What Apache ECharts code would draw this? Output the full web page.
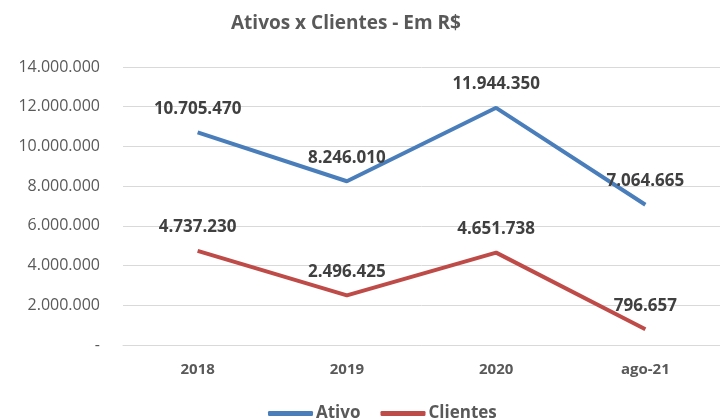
<!DOCTYPE html>
<html>
<head>
<meta charset="utf-8">
<script src="https://cdn.jsdelivr.net/npm/echarts@6/dist/echarts.min.js"></script>
<style>
  html, body { margin: 0; padding: 0; background: #fff; }
  #main { width: 720px; height: 419px; }
</style>
</head>
<body>
<div id="main"></div>
<script>
// dados
var categorias = ['2018', '2019', '2020', 'ago-21'];
var ativo = [10705470, 8246010, 11944350, 7064665];
var clientes = [4737230, 2496425, 4651738, 796657];
var yTicks = { min: 0, max: 14000000, interval: 2000000 };

var azul = '#4a7ebb';
var vermelho = '#be4b48';

function fmtBR(v) {
  if (v === 0) return '-';
  return String(Math.round(v)).replace(/\B(?=(\d{3})+(?!\d))/g, '.');
}

var fonte = '"Open Sans", "Noto Sans", sans-serif';

var chartDom = document.getElementById('main');
var myChart = echarts.init(chartDom);

function rotulo() {
  return {
    show: true, position: 'top', distance: 14,
    color: '#404040', fontSize: 17, fontWeight: 'bold',
    formatter: function (p) { return fmtBR(p.value); }
  };
}

var option = {
  animation: false,
  textStyle: { fontFamily: fonte },
  title: {
    text: 'Ativos x Clientes - Em R$',
    left: 226,
    top: 9,
    textStyle: { color: '#595959', fontSize: 19, fontWeight: 'bold', fontFamily: fonte }
  },
  legend: {
    top: 400,
    left: 263,
    icon: 'roundRect',
    itemWidth: 45,
    itemHeight: 5,
    itemGap: 20,
    textStyle: { color: '#595959', fontSize: 17, fontWeight: 'bold', padding: [0, 0, 0, -2] },
    data: [
      { name: 'Ativo', itemStyle: { color: azul } },
      { name: 'Clientes', itemStyle: { color: vermelho } }
    ]
  },
  grid: { left: 123, right: -11, top: 67, bottom: 74, containLabel: false },
  xAxis: {
    type: 'category',
    data: categorias,
    axisLine: { show: true, lineStyle: { color: '#d9d9d9', width: 1 } },
    axisTick: { show: false },
    axisLabel: { color: '#595959', fontSize: 15, fontWeight: 'bold', margin: 17 }
  },
  yAxis: {
    type: 'value',
    min: yTicks.min,
    max: yTicks.max,
    interval: yTicks.interval,
    axisLine: { show: false },
    axisTick: { show: false },
    splitLine: { lineStyle: { color: '#d9d9d9', width: 1 } },
    axisLabel: { color: '#595959', fontSize: 16, margin: 23, formatter: fmtBR }
  },
  series: [
    {
      name: 'Ativo',
      type: 'line',
      data: ativo,
      symbol: 'circle',
      symbolSize: 2,
      showSymbol: true,
      itemStyle: { color: 'rgba(0,0,0,0)', borderWidth: 0 },
      lineStyle: { width: 4, color: azul },
      label: rotulo()
    },
    {
      name: 'Clientes',
      type: 'line',
      data: clientes,
      symbol: 'circle',
      symbolSize: 2,
      showSymbol: true,
      itemStyle: { color: 'rgba(0,0,0,0)', borderWidth: 0 },
      lineStyle: { width: 4, color: vermelho },
      label: rotulo()
    }
  ]
};
myChart.setOption(option);
</script>
</body>
</html>
